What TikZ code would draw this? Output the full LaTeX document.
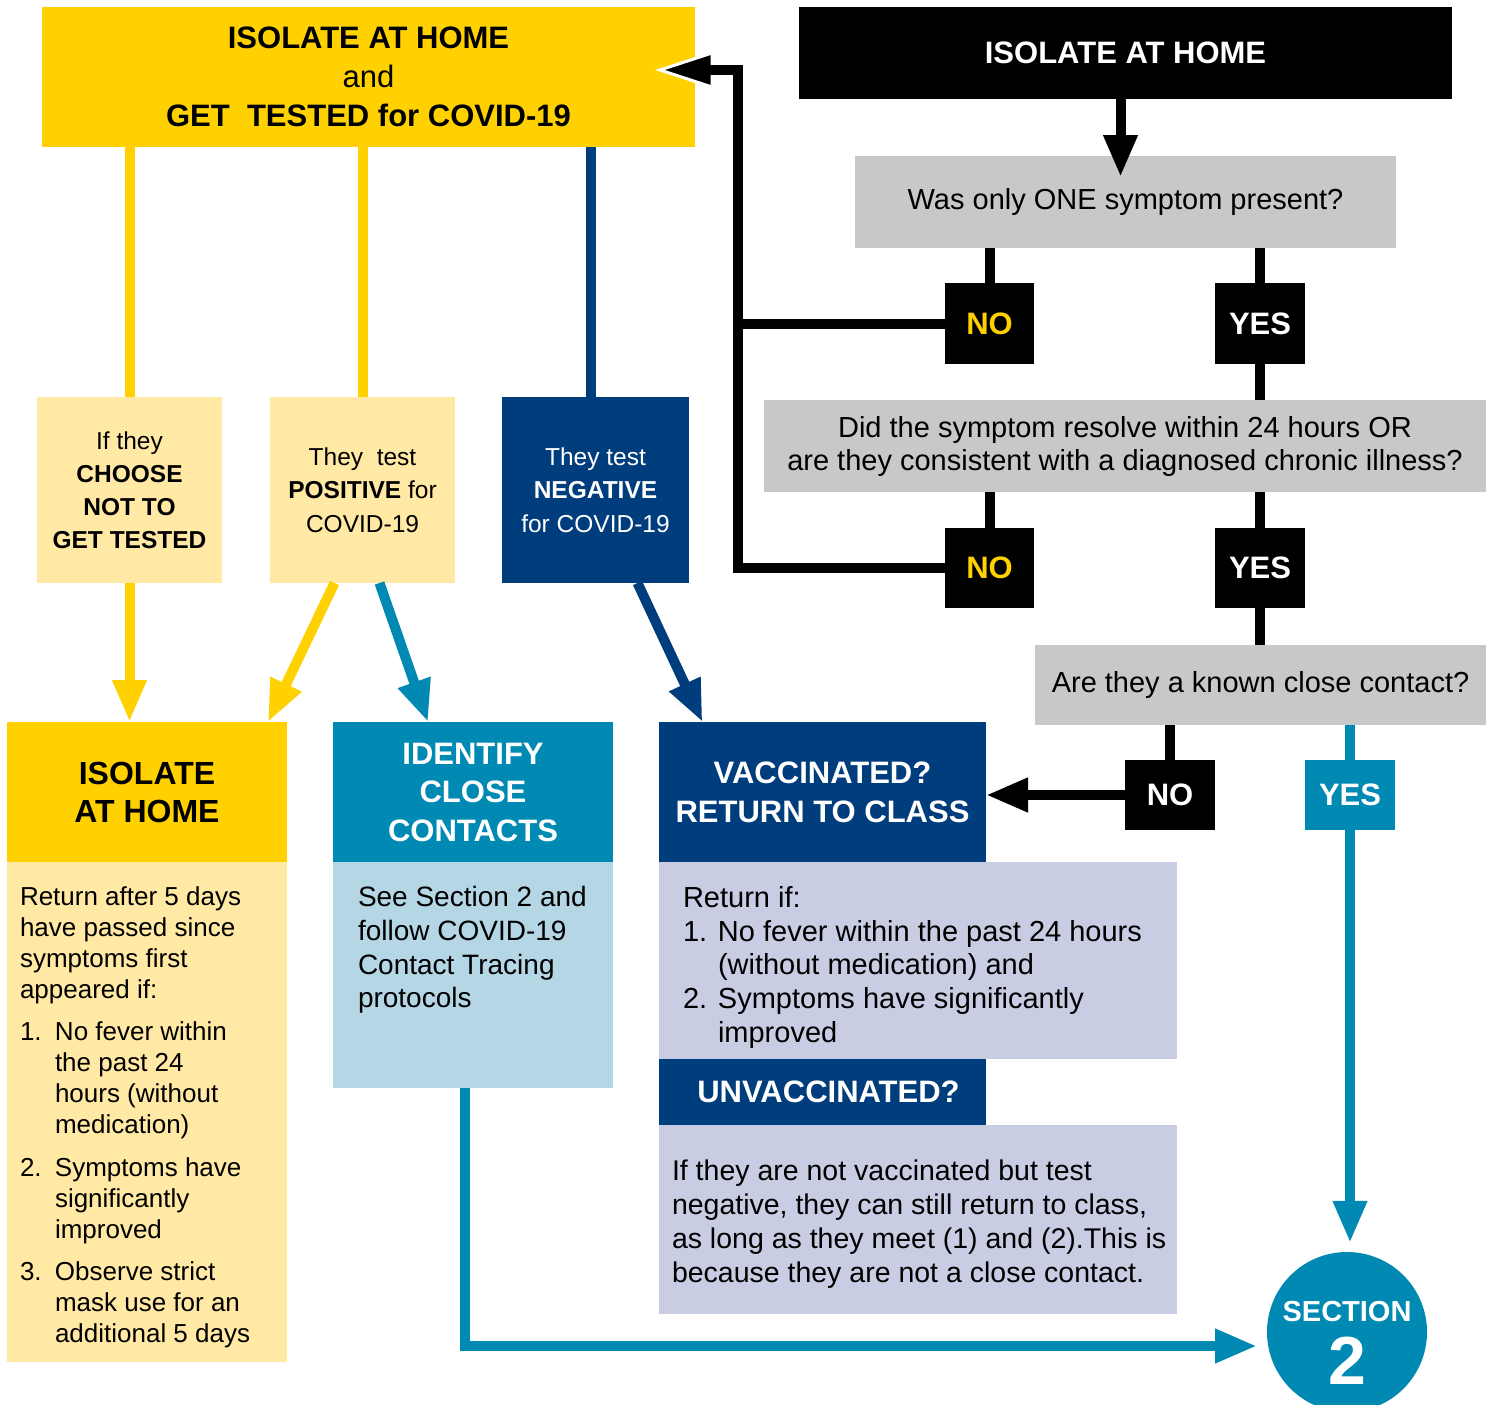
\documentclass[tikz,border=0pt]{standalone}
\usepackage{fontspec}
\setmainfont{Liberation Sans}
\usetikzlibrary{arrows.meta}
\definecolor{gold}{RGB}{255,209,0}
\definecolor{lyel}{RGB}{255,233,164}
\definecolor{navy}{RGB}{0,61,124}
\definecolor{tealc}{RGB}{0,137,178}
\definecolor{lblue}{RGB}{180,214,229}
\definecolor{lav}{RGB}{201,205,227}
\definecolor{qgray}{RGB}{199,200,202}
\newcommand\fsz[2]{\fontsize{#1}{#2}\selectfont}
\newcommand\nb[2]{\makebox[#1pt][l]{#2}}
\begin{document}
\begin{tikzpicture}[x=1pt,y=-1pt,
  rect/.style={inner sep=0pt, outer sep=0pt, anchor=north west, align=center},
  txt/.style={inner sep=0pt, outer sep=0pt, anchor=north west, align=left},
  bk/.style={draw=black, line width=10pt},
  yl/.style={draw=gold, line width=10pt},
  nv/.style={draw=navy, line width=10pt},
  tl/.style={draw=tealc, line width=10pt},
  tip/.style={-{Triangle[width=32pt,length=42pt]}},
  qbox/.style={rect, fill=qgray, font=\fsz{29}{33}},
  yn/.style={rect, fill=black, text=white, font=\fsz{31}{31}\bfseries}
]
\useasboundingbox (0,0) rectangle (1491,1405);
\clip (0,0) rectangle (1491,1405);

% top boxes
\node[rect, fill=gold, minimum width=653pt, minimum height=140pt, font=\fsz{31}{39}\bfseries] (top) at (42,7)
  {ISOLATE AT HOME\\{\mdseries and}\\GET\ \ TESTED for COVID-19};
\node[rect, fill=black, text=white, minimum width=653pt, minimum height=92pt, font=\fsz{31}{37}\bfseries] (blk) at (799,7) {ISOLATE AT HOME};

% questions
\node[qbox, minimum width=541pt, minimum height=92pt] (q1) at (855,156) {Was only ONE symptom present?};
\node[qbox, minimum width=722pt, minimum height=92pt] (q2) at (764,400) {Did the symptom resolve within 24 hours OR\\are they consistent with a diagnosed chronic illness?};
\node[qbox, minimum width=451pt, minimum height=80pt] (q3) at (1035,645) {Are they a known close contact?};

% yes / no
\node[yn, text=gold, minimum width=89pt, minimum height=81pt] (no1) at (945,283) {NO};
\node[yn, minimum width=90pt, minimum height=81pt] (yes1) at (1215,283) {YES};
\node[yn, text=gold, minimum width=89pt, minimum height=80pt] (no2) at (945,528) {NO};
\node[yn, minimum width=90pt, minimum height=80pt] (yes2) at (1215,528) {YES};
\node[yn, minimum width=90pt, minimum height=70pt] (no3) at (1125,760) {NO};
\node[yn, fill=tealc, minimum width=90pt, minimum height=70pt] (yes3) at (1305,760) {YES};

% small boxes
\node[rect, fill=lyel, minimum width=185pt, minimum height=186pt, font=\fsz{24.5}{33}] (bA) at (37,397)
  {If they\\\textbf{CHOOSE}\\\textbf{NOT TO}\\\textbf{GET TESTED}};
\node[rect, fill=lyel, minimum width=185pt, minimum height=186pt, font=\fsz{24.5}{33.5}] (bB) at (270,397)
  {They\ \ test\\\textbf{POSITIVE} for\\COVID-19};
\node[rect, fill=navy, text=white, minimum width=187pt, minimum height=186pt, font=\fsz{24.5}{33.5}] (bC) at (502,397)
  {They test\\\textbf{NEGATIVE}\\for COVID-19};

% outcome headers and bodies
\node[rect, fill=gold, minimum width=280pt, minimum height=140pt, font=\fsz{32}{38}\bfseries] (isoH) at (7,722) {ISOLATE\\AT HOME};
\node[rect, fill=lyel, minimum width=280pt, minimum height=500pt] (isoB) at (7,862) {};
\node[rect, fill=tealc, text=white, minimum width=280pt, minimum height=140pt, font=\fsz{31}{38.5}\bfseries] (idH) at (333,722) {IDENTIFY\\CLOSE\\CONTACTS};
\node[rect, fill=lblue, minimum width=280pt, minimum height=226pt] (idB) at (333,862) {};
\node[rect, fill=navy, text=white, minimum width=327pt, minimum height=140pt, font=\fsz{31}{39}\bfseries] (vacH) at (659,722) {VACCINATED?\\RETURN TO CLASS};
\node[rect, fill=lav, minimum width=518pt, minimum height=197pt] (vacB) at (659,862) {};
\node[rect, fill=navy, text=white, minimum width=327pt, minimum height=66pt, font=\fsz{31}{31}\bfseries] (unvH) at (659,1059) {\hspace*{12pt}UNVACCINATED?};
\node[rect, fill=lav, minimum width=518pt, minimum height=189pt] (unvB) at (659,1125) {};

% body texts
\node[txt, font=\fsz{26}{31}] (isoT) at (20,887)
  {Return after 5 days\\have passed since\\symptoms first\\appeared if:\\[11pt]
   \nb{35}{1.}No fever within\\\hspace*{35pt}the past 24\\\hspace*{35pt}hours (without\\\hspace*{35pt}medication)\\[12pt]
   \nb{35}{2.}Symptoms have\\\hspace*{35pt}significantly\\\hspace*{35pt}improved\\[11pt]
   \nb{35}{3.}Observe strict\\\hspace*{35pt}mask use for an\\\hspace*{35pt}additional 5 days};
\node[txt, font=\fsz{28}{33.7}] (idT) at (358,886.5)
  {See Section 2 and\\follow COVID-19\\Contact Tracing\\protocols};
\node[txt, font=\fsz{29}{33.7}] (vacT) at (683,886.5)
  {Return if:\\\nb{35}{1.}No fever within the past 24 hours\\\hspace*{35pt}(without medication) and\\\nb{35}{2.}Symptoms have significantly\\\hspace*{35pt}improved};
\node[txt, font=\fsz{28.5}{34}] (unvT) at (672,1160)
  {If they are not vaccinated but test\\negative, they can still return to class,\\as long as they meet (1) and (2).This is\\because they are not a close contact.};

% section circle
\node[circle, fill=tealc, minimum size=160pt, inner sep=0pt] (sec) at (1347,1332) {};
\node[inner sep=0pt, text=white, font=\fsz{29}{29}\bfseries] (secT) at (1347,1312) {SECTION};
\node[inner sep=0pt, text=white, font=\fsz{68}{68}\bfseries] (secN) at (1347,1361) {2};

% connectors: left side
\coordinate (cn) at ([xshift=-5pt]bC.north);
\draw[yl] (bA.north |- top.south) -- (bA.north);
\draw[yl] (bB.north |- top.south) -- (bB.north);
\draw[nv] (cn |- top.south) -- (cn);
\draw[yl, tip] (bA.south) -- (bA.south |- isoH.north);
\draw[yl, tip] ([xshift=-28pt]bB.south) -- ([xshift=121pt]isoH.north);
\draw[tl, tip] ([xshift=17pt]bB.south) -- ([xshift=-45pt]idH.north);
\draw[nv, tip] ([xshift=42pt]bC.south) -- ([xshift=-120pt]vacH.north);

% connectors: right side
\draw[bk, tip] ([xshift=-5pt]blk.south) -- ([xshift=-5pt,yshift=-21pt]q1.north);
\draw[bk] (no1.north |- q1.south) -- (no1.north);
\draw[bk] (yes1.north |- q1.south) -- (yes1.north);
\draw[bk] (yes1.south) -- (yes1.south |- q2.north);
\draw[bk] (no2.north |- q2.south) -- (no2.north);
\draw[bk] (yes2.north |- q2.south) -- (yes2.north);
\draw[bk] (yes2.south) -- (yes2.south |- q3.north);
\draw[bk] (no3.north |- q3.south) -- (no3.north);
\draw[tl] (yes3.north |- q3.south) -- (yes3.north);
\draw[bk, tip] (no3.west) -- (vacH.east |- no3.west);

% loop back to top box
\coordinate (lc) at (738,70);
\coordinate (lhead) at (660,70);
\filldraw[fill=black, draw=white, line width=3pt, line join=miter] (lhead) -- ++(52,-17) -- ++(0,34) -- cycle;
\draw[bk, line join=miter] (no2.west) -| (lc) -- ([xshift=-38pt]lc);
\draw[bk] (no1.west) -- (no1.west -| lc);

% teal to section 2
\draw[tl, tip, shorten >=9pt] (yes3.south) -- (yes3.south |- sec.north);
\coordinate (secin) at (1257,1346);
\draw[tl, tip, line join=miter] ([xshift=-8pt]idB.south) |- (secin);
\end{tikzpicture}
\end{document}
